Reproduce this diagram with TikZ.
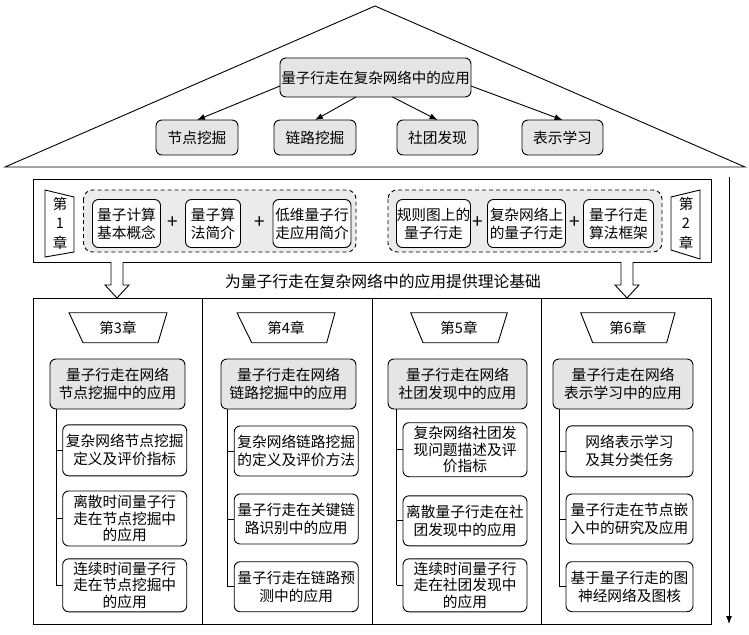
\documentclass[tikz,border=0pt]{standalone}
\usepackage{fontspec}
\setmainfont{Noto Sans CJK SC}
\usetikzlibrary{arrows.meta,calc}
\begin{document}
\begin{tikzpicture}[x=1pt,y=-1pt,line width=0.9pt,
  every node/.style={inner sep=0pt,outer sep=0pt},
  bx/.style={draw,rounded corners=6pt,align=center,font=\fontsize{14.7}{18}\selectfont},
  bxiii/.style={bx,font=\fontsize{14.7}{16.5}\selectfont},
  gbx/.style={bx,fill=black!10},
  wbx/.style={bx,fill=white},
  wbxiii/.style={bxiii,fill=white},
  grp/.style={draw,dash pattern=on 4pt off 3pt,rounded corners=9pt,fill=black!8},
  lbl/.style={font=\fontsize{14.5}{19.5}\selectfont,align=center},
  plus/.style={font=\fontsize{19}{19}\selectfont},
  arr/.style={-{Latex[length=8pt,width=6pt]}},
  hol/.style={draw,fill=white,line width=0.9pt},
  frame/.style={draw,line width=0.9pt}
]
\useasboundingbox (0,0) rectangle (749,634);

% ---------- roof ----------
\draw[line width=0.9pt] (5,167) -- (375,6) -- (745,167) -- cycle;
\node[gbx,minimum width=191pt,minimum height=39pt,font=\fontsize{14.5}{18}\selectfont] (top) at (375.5,77.5) {量子行走在复杂网络中的应用};
\node[gbx,minimum width=82pt,minimum height=35pt] (s1) at (197,137.5) {节点挖掘};
\node[gbx,minimum width=82pt,minimum height=35pt] (s2) at (315,137.5) {链路挖掘};
\node[gbx,minimum width=81pt,minimum height=35pt] (s3) at (437.5,137.5) {社团发现};
\node[gbx,minimum width=81pt,minimum height=35pt] (s4) at (562.5,137.5) {表示学习};
\draw[arr] ($(top.west)+(0,8.5)$) -- (s1.north);
\draw[arr] ($(top.south)+(-19.5,0)$) -- (s2.north);
\draw[arr] ($(top.south)+(17,0)$) -- (s3.north);
\draw[arr] ($(top.east)+(0,8.5)$) -- (s4.north);

% ---------- chapters 1-2 band ----------
\draw[frame] (33,179) rectangle (711,262);
\draw (45,190) -- (74,197) -- (74,252) -- (45,257) -- cycle;
\node[lbl] (ch1) at (60,223) {第\\1\\章};
\draw (700,190) -- (671,197) -- (671,250) -- (700,259) -- cycle;
\node[lbl] (ch2) at (686,223) {第\\2\\章};

\draw[grp] (83.5,190) rectangle (356,252);
\draw[grp] (388,190) rectangle (662,252);

\node[wbx,minimum width=68pt,minimum height=48pt] (b1) at (126.5,223.5) {量子计算\\基本概念};
\node[plus] (p1) at (173,223) {+};
\node[wbx,minimum width=55pt,minimum height=48pt] (b2) at (213,223.5) {量子算\\法简介};
\node[plus] (p2) at (260,223) {+};
\node[wbx,minimum width=78pt,minimum height=48pt] (b3) at (312,223.5) {低维量子行\\走应用简介};
\node[wbx,minimum width=74pt,minimum height=48pt] (b4) at (433.5,223.5) {规则图上的\\量子行走};
\node[plus] (p3) at (478,223) {+};
\node[wbx,minimum width=78pt,minimum height=48pt] (b5) at (526.5,223.5) {复杂网络上\\的量子行走};
\node[plus] (p4) at (575,223) {+};
\node[wbx,minimum width=70pt,minimum height=48pt] (b6) at (618.5,223.5) {量子行走\\算法框架};

\node[font=\fontsize{15.8}{18}\selectfont] (cap) at (383,281) {为量子行走在复杂网络中的应用提供理论基础};

% hollow arrows
\foreach \xx in {117,627}{
  \draw[hol] (\xx-6,262) -- (\xx-6,285) -- (\xx-12,285) -- (\xx,298) -- (\xx+12,285) -- (\xx+6,285) -- (\xx+6,262);
}

% ---------- columns ----------
\draw[frame] (33,298) rectangle (711,624);
\draw (202,298) -- (202,624);
\draw (372,298) -- (372,624);
\draw (541,298) -- (541,624);

% long side arrow
\coordinate (vs) at (729,177);
\coordinate (ve) at (729,624);
\draw[arr] (vs) -- (ve);

% chapter trapezoids
\draw (69,312.7) -- (167,312.7) -- (158,342.7) -- (83,342.7) -- cycle;
\node[font=\fontsize{14.5}{18}\selectfont] (ch3) at (118,327.7) {第3章};
\draw (237,312.7) -- (335,312.7) -- (326.7,342.7) -- (251.7,342.7) -- cycle;
\node[font=\fontsize{14.5}{18}\selectfont] (ch4) at (286,327.7) {第4章};
\draw (410.7,312.7) -- (507.3,312.7) -- (498,342.7) -- (423,342.7) -- cycle;
\node[font=\fontsize{14.5}{18}\selectfont] (ch5) at (459,327.7) {第5章};
\draw (580.7,312.7) -- (675,312.7) -- (666.7,342.7) -- (592.7,342.7) -- cycle;
\node[font=\fontsize{14.5}{18}\selectfont] (ch6) at (628,327.7) {第6章};

% column 3
\node[gbx,minimum width=135pt,minimum height=50pt] (m3) at (117.5,384) {量子行走在网络\\节点挖掘中的应用};
\node[wbx,minimum width=124pt,minimum height=51pt] (c31) at (124.7,450.3) {复杂网络节点挖掘\\定义及评价指标};
\node[wbxiii,minimum width=124pt,minimum height=55pt] (c32) at (124.7,518.5) {离散时间量子行\\走在节点挖掘中\\的应用};
\node[wbxiii,minimum width=124pt,minimum height=53pt] (c33) at (124.7,585.3) {连续时间量子行\\走在节点挖掘中\\的应用};
\coordinate (t3) at (56,0);

% column 4
\node[gbx,minimum width=135pt,minimum height=50pt] (m4) at (288.5,384) {量子行走在网络\\链路挖掘中的应用};
\node[wbx,minimum width=124pt,minimum height=50pt] (c41) at (296.2,451) {复杂网络链路挖掘\\的定义及评价方法};
\node[wbx,minimum width=124pt,minimum height=50pt] (c42) at (296.2,519) {量子行走在关键链\\路识别中的应用};
\node[wbx,minimum width=124pt,minimum height=50pt] (c43) at (296.2,586.7) {量子行走在链路预\\测中的应用};
\coordinate (t4) at (227.3,0);

% column 5
\node[gbx,minimum width=139pt,minimum height=50pt] (m5) at (457.5,384) {量子行走在网络\\社团发现中的应用};
\node[wbxiii,minimum width=124pt,minimum height=54pt] (c51) at (465,449.7) {复杂网络社团发\\现问题描述及评\\价指标};
\node[wbx,minimum width=124pt,minimum height=50pt] (c52) at (465,520.8) {离散量子行走在社\\团发现中的应用};
\node[wbxiii,minimum width=124pt,minimum height=53pt] (c53) at (465,585.3) {连续时间量子行\\走在社团发现中\\的应用};
\coordinate (t5) at (396.7,0);

% column 6
\node[gbx,minimum width=140pt,minimum height=50pt] (m6) at (623,384) {量子行走在网络\\表示学习中的应用};
\node[wbx,minimum width=127pt,minimum height=51pt] (c61) at (629.5,451.3) {网络表示学习\\及其分类任务};
\node[wbx,minimum width=127pt,minimum height=50pt] (c62) at (629.5,519) {量子行走在节点嵌\\入中的研究及应用};
\node[wbx,minimum width=127pt,minimum height=50pt] (c63) at (629.5,586.7) {基于量子行走的图\\神经网络及图核};
\coordinate (t6) at (559,0);

% tree lines
\foreach \m/\t/\a/\b/\c in {m3/t3/c31/c32/c33, m4/t4/c41/c42/c43, m5/t5/c51/c52/c53, m6/t6/c61/c62/c63}{
  \draw (\m.south -| \t) -- (\c.west -| \t);
  \foreach \k in {\a,\b,\c}{
    \draw (\k.west -| \t) -- (\k.west);
  }
}
\end{tikzpicture}
\end{document}
